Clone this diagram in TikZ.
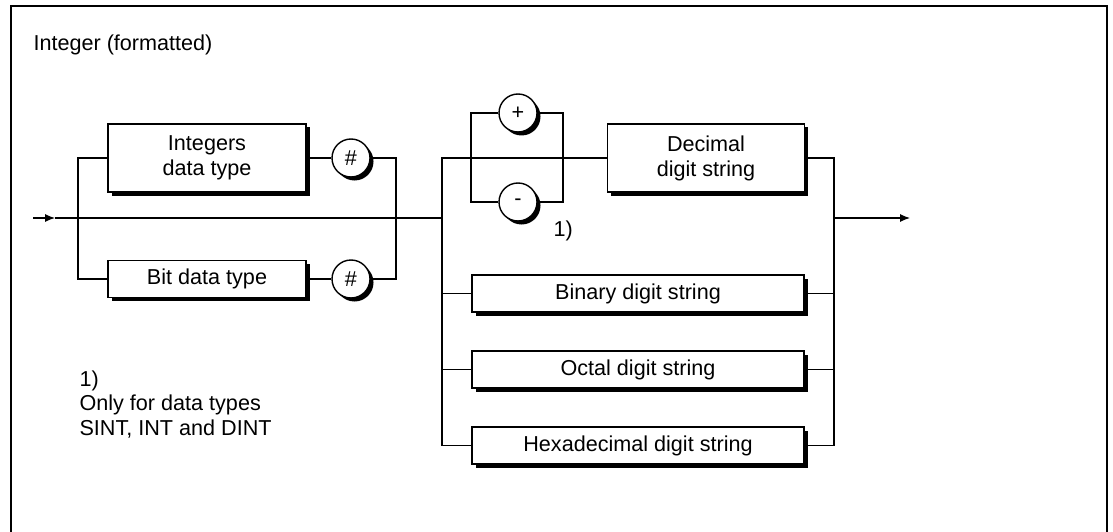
\documentclass[tikz,border=0pt]{standalone}
\usepackage{fontspec}
\setmainfont{Liberation Sans}
\usetikzlibrary{arrows.meta,shadows}

\begin{document}
\begin{tikzpicture}[x=1pt,y=-1pt,
  font=\fontsize{21.6}{25}\selectfont,
  line width=1.1pt,
  shadowed/.style={drop shadow={shadow xshift=3.5pt,shadow yshift=-3.5pt,fill=black,opacity=1}},
  syntaxbox/.style={draw,fill=white,line width=1.4pt,inner sep=0pt,align=center,shadowed},
  term/.style={draw,circle,fill=white,line width=1.4pt,inner sep=0pt,minimum size=38pt,shadowed},
  label/.style={anchor=base west,inner sep=0pt},
  flow/.style={-{Latex[length=10pt,width=8pt]}}]
  \useasboundingbox (0,0) rectangle (1113,532);

  % Frame and title
  \draw[line width=2pt] (10.5,540) -- (10.5,6.5) -- (1106.5,6.5) -- (1106.5,540);
  \node[label] (title) at (33,51) {Integer (formatted)};

  % Left part: data type prefix
  \node[syntaxbox,minimum width=198pt,minimum height=68pt] (intbox) at (207,158) {Integers\\data type};
  \node[syntaxbox,minimum width=198pt,minimum height=37pt] (bitbox) at (207,279) {Bit data type};
  \node[term] (hashA) at (351,158) {\#};
  \node[term] (hashB) at (351,279) {\#};

  % Sign
  \node[term] (plus) at (518,113) {+};
  \node[term] (minus) at (518,202) {-};
  \node[label] (mark) at (553,236) {1)};

  % Digit strings
  \node[syntaxbox,minimum width=197pt,minimum height=68pt] (decbox) at (706,158) {Decimal\\digit string};
  \node[syntaxbox,minimum width=332pt,minimum height=37pt] (binbox) at (638,293.5) {Binary digit string};
  \node[syntaxbox,minimum width=332pt,minimum height=37pt] (octbox) at (638,369.5) {Octal digit string};
  \node[syntaxbox,minimum width=332pt,minimum height=37pt] (hexbox) at (638,445.5) {Hexadecimal digit string};

  % Footnote
  \node[label] (noteA) at (79,386) {1)};
  \node[label] (noteB) at (79,410.5) {Only for data types};
  \node[label] (noteC) at (79,435) {SINT, INT and DINT};

  % Junctions on the main line
  \coordinate (start) at (33,218);
  \coordinate (tipA) at (55,218);
  \coordinate (forkA) at (78,218);
  \coordinate (joinA) at (396,218);
  \coordinate (forkB) at (442,218);
  \coordinate (signL) at (471,158);
  \coordinate (signR) at (563,158);
  \coordinate (joinB) at (834,218);
  \coordinate (stop) at (910,218);

  % Connectors
  \draw[flow] (start) -- (tipA);
  \draw (tipA) -- (forkB);
  \draw (intbox.west) -| (forkA) |- (bitbox.west);
  \draw (intbox.east) -- (hashA);
  \draw (bitbox.east) -- (hashB);
  \draw (hashA.east) -| (joinA) |- (hashB.east);

  \draw (forkB) |- (decbox.west);
  \draw (plus.west) -| (signL) |- (minus.west);
  \draw (plus.east) -| (signR) |- (minus.east);
  \draw (forkB) |- (binbox.west);
  \draw (forkB) |- (octbox.west);
  \draw (forkB) |- (hexbox.west);

  \draw (decbox.east) -| (joinB);
  \draw (binbox.east) -| (joinB);
  \draw (octbox.east) -| (joinB);
  \draw (hexbox.east) -| (joinB);
  \draw[flow] (joinB) -- (stop);
\end{tikzpicture}
\end{document}
